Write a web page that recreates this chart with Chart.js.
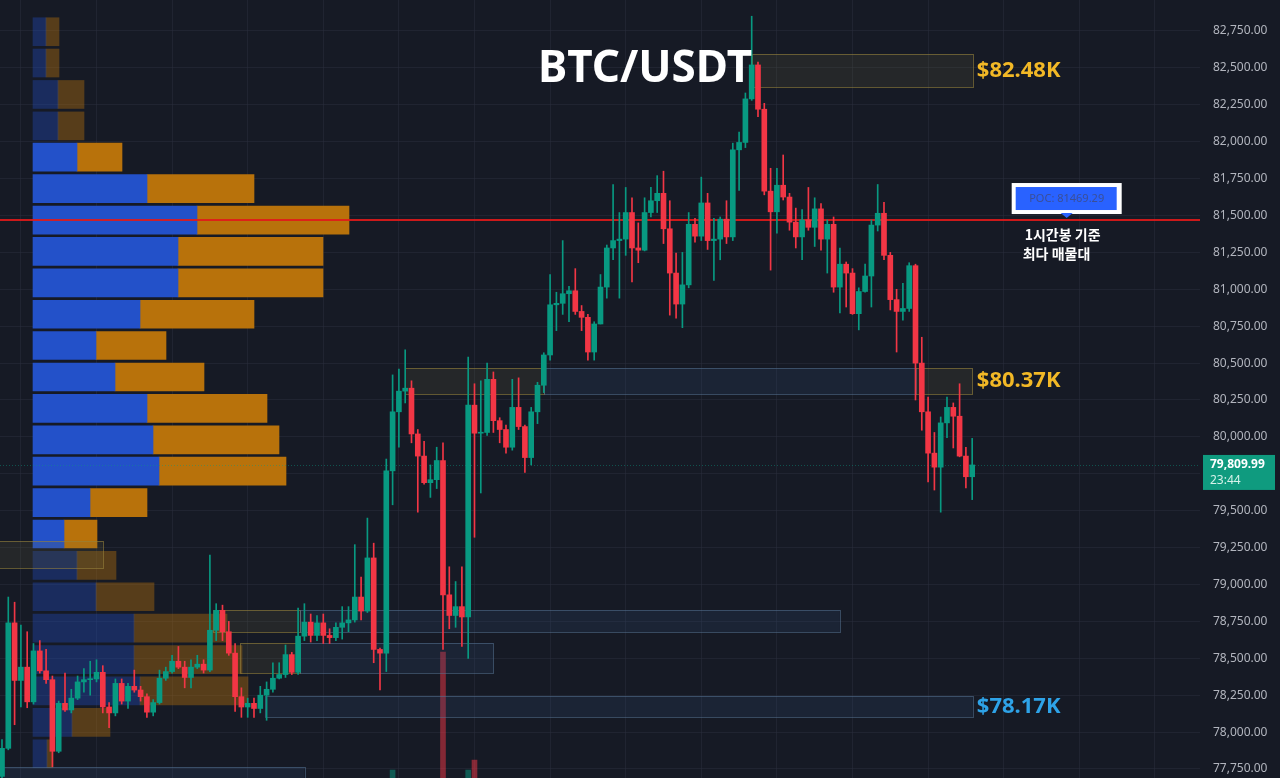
<!DOCTYPE html>
<html>
<head>
<meta charset="utf-8">
<script src="https://cdn.jsdelivr.net/npm/chart.js@4.4.1/dist/chart.umd.min.js"></script>
<style>
  html, body { margin: 0; padding: 0; background: #161a25; }
  #wrap { position: relative; width: 1280px; height: 778px; }
</style>
</head>
<body>
<div id="wrap"><canvas id="chart" width="1280" height="778"></canvas></div>
<script>
// 1h candles, BTC/USDT
const opens = [77700,77890,78740,78350,78440,78205,78550,78415,78355,77870,
  78195,78150,78230,78340,78355,78360,78405,78170,78130,78330,
  78210,78310,78285,78240,78135,78200,78365,78410,78480,78440,
  78370,78440,78460,78420,78690,78825,78680,78535,78240,78170,
  78195,78160,78250,78290,78365,78390,78525,78405,78650,78745,
  78655,78740,78655,78640,78710,78740,78760,78915,78820,79180,
  78560,78535,79770,80170,80310,80330,80020,79870,79690,79710,
  79840,78930,78790,78850,78780,80215,80025,80030,80390,80110,
  80050,79930,80200,80070,79860,80170,80350,80555,80895,80905,
  80970,80990,80850,80810,80575,80765,81015,81280,81330,81340,
  81520,81280,81265,81520,81600,81650,81410,81110,80900,81030,
  81440,81360,81585,81330,81340,81475,81355,81945,81995,82290,
  82520,82220,81665,81525,81705,81625,81455,81355,81470,81420,
  81545,81340,81440,81015,81170,81110,80835,80985,81090,81435,
  81515,81230,80930,80850,80870,81160,80500,80170,79890,79795,
  80095,80200,80140,79870,79730];
const highs = [77950,78915,78880,78725,78680,78600,78620,78560,78380,78210,
  78400,78290,78380,78430,78480,78490,78450,78200,78360,78360,
  78330,78420,78310,78260,78220,78420,78440,78520,78580,78480,
  78490,78520,78490,79200,78870,78860,78750,78600,78300,78230,
  78230,78310,78340,78470,78470,78590,78540,78840,78870,78800,
  78790,78800,78700,78740,78850,78850,79270,79050,79450,79280,
  78570,79850,80420,80460,80590,80380,80050,79970,79810,79930,
  79960,79120,79020,79120,80540,80360,80380,80500,80440,80130,
  80080,80390,80400,80080,80200,80370,80570,81100,80980,81330,
  81020,81140,80890,80830,80780,81100,81300,81710,81520,81690,
  81620,81450,81620,81690,81770,81800,81600,81245,81250,81520,
  81480,81760,81650,81480,81490,81600,81990,82065,82330,82850,
  82540,82260,81820,81820,81910,81650,81550,81540,81690,81620,
  81580,81470,81490,81280,81185,81140,81010,81170,81470,81710,
  81590,81250,81000,81040,81180,81170,80675,80270,80030,80135,
  80270,80230,80360,79930,79990];
const lows = [77650,77880,78050,78170,78165,78190,78400,78330,77765,77860,
  78140,78130,78220,78270,78250,78340,78130,78030,78110,78190,
  78160,78270,78210,78100,78110,78190,78350,78400,78430,78300,
  78300,78430,78400,78410,78620,78620,78520,78140,78100,78100,
  78100,78130,78080,78270,78360,78370,78390,78390,78620,78610,
  78620,78600,78600,78620,78630,78680,78745,78760,78810,78470,
  78285,78410,79540,79930,80230,79960,79490,79680,79590,79650,
  78560,78700,78710,78580,78500,79320,79620,80010,80030,79960,
  79890,79910,80050,79760,79810,80090,80300,80520,80720,80830,
  80780,80830,80720,80520,80520,80765,80940,81200,80940,81230,
  81050,81180,81260,81490,81520,81310,80825,80805,80740,81010,
  81320,81330,81270,81060,81200,81310,81330,81670,81960,82280,
  82170,81640,81130,81380,81605,81400,81280,81200,81400,81290,
  81265,81110,80980,80840,80880,80830,80725,80980,80880,81395,
  81200,80860,80575,80790,80850,80250,80045,79695,79640,79490,
  79995,79925,79865,79655,79575];
const closes = [77890,78740,78350,78440,78205,78550,78415,78355,77870,78195,
  78150,78230,78340,78355,78360,78405,78170,78130,78330,78210,
  78310,78285,78240,78135,78200,78365,78410,78480,78440,78370,
  78440,78460,78420,78690,78825,78680,78535,78240,78170,78195,
  78160,78250,78290,78365,78390,78525,78405,78650,78745,78655,
  78740,78655,78640,78710,78740,78760,78915,78820,79180,78560,
  78535,79770,80170,80310,80330,80020,79870,79690,79710,79840,
  78930,78790,78850,78780,80215,80025,80030,80390,80110,80050,
  79930,80200,80070,79860,80170,80350,80555,80895,80905,80970,
  80990,80850,80810,80575,80765,81015,81280,81330,81340,81520,
  81280,81265,81520,81600,81650,81410,81110,80900,81030,81440,
  81360,81585,81330,81340,81475,81355,81945,81995,82290,82520,
  82220,81665,81525,81705,81625,81455,81355,81470,81420,81545,
  81340,81440,81015,81170,81110,80835,80985,81090,81435,81515,
  81230,80930,80850,80870,81160,80500,80170,79890,79795,80095,
  80200,80140,79870,79730,79809.99];

// only the volume bars that reach into the price pane
const volIndex = [62, 70, 74, 75];
const volValues = [1120, 2900, 1120, 1270];

const priceTicks = [82750,82500,82250,82000,81750,81500,81250,81000,80750,80500,
  80250,80000,79750,79500,79250,79000,78750,78500,78250,78000,77750];
const timeGridIdx = [3,15,27,39,51,63,75,87,99,111,123,135,147,159,171,183];

// volume profile rows (price at row centre, buy / sell volume)
const profilePrices = [82745,82533,82320,82107,81895,81682,81469,81257,81044,80831,80619,80406,
  80193,79980,79768,79555,79342,79130,78917,78704,78491,78279,78066,77853];
const profileBuy  = [65,65,125,125,220,570,820,725,725,535,315,410,570,600,630,285,155,220,315,505,505,535,195,70];
const profileSell = [65,65,130,130,225,535,760,725,725,570,350,445,600,630,635,285,165,195,290,465,540,540,190,30];
const inValueArea = [0,0,0,0,1,1,1,1,1,1,1,1,1,1,1,1,1,0,0,0,0,0,0,0];

const pocPrice = 81469.29;
const pocLabelIdx = 169;
const lastTime = '23:44';

// support / resistance zones (candle index range, price range)
const zoneStart = [-0.5, 33.5, 47.3, 37.8, 47.3, -0.5, 41.7, 64, 86, 145, 119];
const zoneEnd   = [16, 47.3, 133, 47.3, 78, 48, 154.1, 86, 145, 154.1, 154.1];
const zoneHigh  = [79295, 78827, 78827, 78604, 78604, 77763, 78245, 80467, 80467, 80467, 82594];
const zoneLow   = [79112, 78678, 78678, 78400, 78400, 77600, 78102, 80290, 80290, 80290, 82370];
const zoneKind  = ['y','y','b','y','b','b','b','y','b','y','y'];
const zoneLabel = ['', '', '', '', '', '', '$78.17K', '', '', '$80.37K', '$82.48K'];

const UP = '#089981', DOWN = '#f23645';
const isUp = i => closes[i] >= opens[i];

const zonePlugin = {
  id: 'zones',
  beforeDatasetDraw(chart, args) {
    if (args.index !== 3) return;
    const ctx = chart.ctx, xs = chart.scales.x, ys = chart.scales.y, area = chart.chartArea;
    ctx.save();
    for (let i = 0; i < zoneStart.length; i++) {
      const x1 = xs.getPixelForValue(zoneStart[i]), x2 = xs.getPixelForValue(zoneEnd[i]);
      const y1 = ys.getPixelForValue(zoneHigh[i]), y2 = ys.getPixelForValue(zoneLow[i]);
      if (zoneKind[i] === 'y') {
        ctx.fillStyle = 'rgba(120,110,60,0.16)';
        ctx.strokeStyle = 'rgba(150,130,60,0.6)';
      } else {
        ctx.fillStyle = 'rgba(50,85,125,0.18)';
        ctx.strokeStyle = 'rgba(85,115,145,0.55)';
      }
      ctx.fillRect(x1, y1, x2 - x1, y2 - y1);
      ctx.lineWidth = 1;
      ctx.strokeRect(Math.round(x1) + 0.5, Math.round(y1) + 0.5, Math.round(x2 - x1), Math.round(y2 - y1));
    }
    // POC line
    const py = ys.getPixelForValue(pocPrice);
    ctx.strokeStyle = 'rgba(225,25,25,0.9)';
    ctx.lineWidth = 2;
    ctx.beginPath();
    ctx.moveTo(area.left, py);
    ctx.lineTo(area.right, py);
    ctx.stroke();
    // last price line
    const ly = Math.round(ys.getPixelForValue(closes[closes.length - 1])) + 0.5;
    ctx.strokeStyle = 'rgba(8,153,129,0.45)';
    ctx.lineWidth = 1;
    ctx.setLineDash([1, 2]);
    ctx.beginPath();
    ctx.moveTo(area.left, ly);
    ctx.lineTo(area.right, ly);
    ctx.stroke();
    ctx.restore();
  },
  afterDraw(chart) {
    const ctx = chart.ctx, xs = chart.scales.x, ys = chart.scales.y, area = chart.chartArea;
    ctx.save();
    // zone labels
    ctx.font = 'bold 22px "Noto Sans"';
    ctx.textBaseline = 'middle';
    ctx.textAlign = 'left';
    for (let i = 0; i < zoneLabel.length; i++) {
      if (!zoneLabel[i]) continue;
      ctx.fillStyle = zoneKind[i] === 'y' ? '#f2b826' : '#2ea3e8';
      const x = xs.getPixelForValue(zoneEnd[i]) + 4;
      const y = ys.getPixelForValue((zoneHigh[i] + zoneLow[i]) / 2);
      ctx.fillText(zoneLabel[i], x, y);
    }
    // title
    ctx.fillStyle = '#ffffff';
    ctx.font = 'bold 44px "Noto Sans"';
    ctx.textAlign = 'center';
    ctx.textBaseline = 'alphabetic';
    ctx.fillText('BTC/USDT', 645, 82);

    // POC label
    const px = xs.getPixelForValue(pocLabelIdx);
    const py = ys.getPixelForValue(pocPrice);
    ctx.fillStyle = '#ffffff';
    ctx.fillRect(px - 55, py - 37, 110, 31);
    ctx.fillStyle = '#2962ff';
    ctx.fillRect(px - 51, py - 33, 101, 23);
    ctx.beginPath();
    ctx.moveTo(px - 6, py - 7);
    ctx.lineTo(px + 6, py - 7);
    ctx.lineTo(px, py - 2);
    ctx.closePath();
    ctx.fill();
    ctx.fillStyle = '#3b4f96';
    ctx.font = '11px "Noto Sans"';
    ctx.textBaseline = 'middle';
    ctx.fillText('POC: ' + pocPrice.toFixed(2), px, py - 21);
    ctx.fillStyle = '#ffffff';
    ctx.font = 'bold 14px "Noto Sans CJK KR"';
    ctx.textAlign = 'left';
    ctx.fillText('1시간봉 기준', px - 42, py + 15);
    ctx.fillText('최다 매물대', px - 44, py + 34);

    // last price tag
    const last = closes[closes.length - 1];
    const ly = ys.getPixelForValue(last);
    ctx.fillStyle = '#0f9b7f';
    ctx.fillRect(area.right + 3, ly - 10, 72, 35);
    ctx.fillStyle = '#ffffff';
    ctx.font = 'bold 12px "Noto Sans"';
    ctx.textAlign = 'left';
    ctx.fillText(last.toLocaleString('en-US', { minimumFractionDigits: 2 }), area.right + 10, ly);
    ctx.fillStyle = '#d6f2ea';
    ctx.font = '12px "Noto Sans"';
    ctx.fillText(lastTime, area.right + 10, ly + 16);
    ctx.restore();
  }
};

const bgPlugin = {
  id: 'bg',
  beforeDraw(chart) {
    const ctx = chart.ctx;
    ctx.save();
    ctx.fillStyle = '#161a25';
    ctx.fillRect(0, 0, chart.width, chart.height);
    ctx.restore();
  }
};

const gridColor = 'rgba(42,46,60,0.55)';

new Chart(document.getElementById('chart'), {
  type: 'bar',
  data: {
    datasets: [
      {
        // 0 volume
        xAxisID: 'x', yAxisID: 'yv', grouped: false, order: 12,
        data: volIndex.map((i, k) => ({ x: i, y: volValues[k] })),
        backgroundColor: volIndex.map(i => isUp(i) ? 'rgba(8,153,129,0.5)' : 'rgba(242,54,69,0.5)'),
        barThickness: 5
      },
      {
        // 1 profile sell
        indexAxis: 'y', xAxisID: 'xv', yAxisID: 'y', grouped: false, order: 11,
        data: profilePrices.map((p, i) => ({ y: p, x: [profileBuy[i], profileBuy[i] + profileSell[i]] })),
        backgroundColor: inValueArea.map(v => v ? '#b8720b' : 'rgba(184,114,11,0.4)'),
        barThickness: 28
      },
      {
        // 2 profile buy
        indexAxis: 'y', xAxisID: 'xv', yAxisID: 'y', grouped: false, order: 10,
        data: profilePrices.map((p, i) => ({ y: p, x: [0, profileBuy[i]] })),
        backgroundColor: inValueArea.map(v => v ? '#2351c9' : 'rgba(35,81,201,0.35)'),
        barThickness: 28
      },
      {
        // 3 wicks
        xAxisID: 'x', yAxisID: 'y', grouped: false, order: 2,
        data: lows.map((l, i) => ({ x: i, y: [l, highs[i]] })),
        backgroundColor: lows.map((l, i) => isUp(i) ? UP : DOWN),
        barThickness: 1
      },
      {
        // 4 bodies
        xAxisID: 'x', yAxisID: 'y', grouped: false, order: 1,
        data: opens.map((o, i) => ({ x: i, y: [o, closes[i]] })),
        backgroundColor: opens.map((o, i) => isUp(i) ? UP : DOWN),
        barThickness: 5,
        minBarLength: 1
      }
    ]
  },
  options: {
    responsive: false,
    animation: false,
    devicePixelRatio: 1,
    layout: { padding: 0 },
    plugins: { legend: { display: false }, tooltip: { enabled: false }, title: { display: false } },
    scales: {
      x: {
        type: 'linear', min: -0.317, max: 190.16, offset: false,
        afterBuildTicks: s => { s.ticks = timeGridIdx.map(v => ({ value: v })); },
        afterFit: s => { s.height = 0; s.paddingLeft = 0; s.paddingRight = 0; },
        ticks: { display: false },
        grid: { color: gridColor, drawTicks: false, offset: false },
        border: { display: false }
      },
      xv: { type: 'linear', display: false, offset: false, min: -165, max: 5835 },
      yv: { type: 'linear', display: false, offset: false, min: 1000, max: 12732 },
      y: {
        type: 'linear', position: 'right', min: 77689, max: 82960, offset: false,
        afterBuildTicks: s => { s.ticks = priceTicks.map(v => ({ value: v })); },
        afterFit: s => { s.width = 80; s.paddingTop = 0; s.paddingBottom = 0; },
        grid: { color: gridColor, drawTicks: false, offset: false },
        border: { display: false },
        ticks: {
          color: '#b2b5be',
          padding: 13,
          font: { family: 'Noto Sans', size: 12 },
          autoSkip: false,
          callback: v => v.toLocaleString('en-US', { minimumFractionDigits: 2, maximumFractionDigits: 2 })
        }
      }
    }
  },
  plugins: [bgPlugin, zonePlugin]
});
</script>
</body>
</html>
